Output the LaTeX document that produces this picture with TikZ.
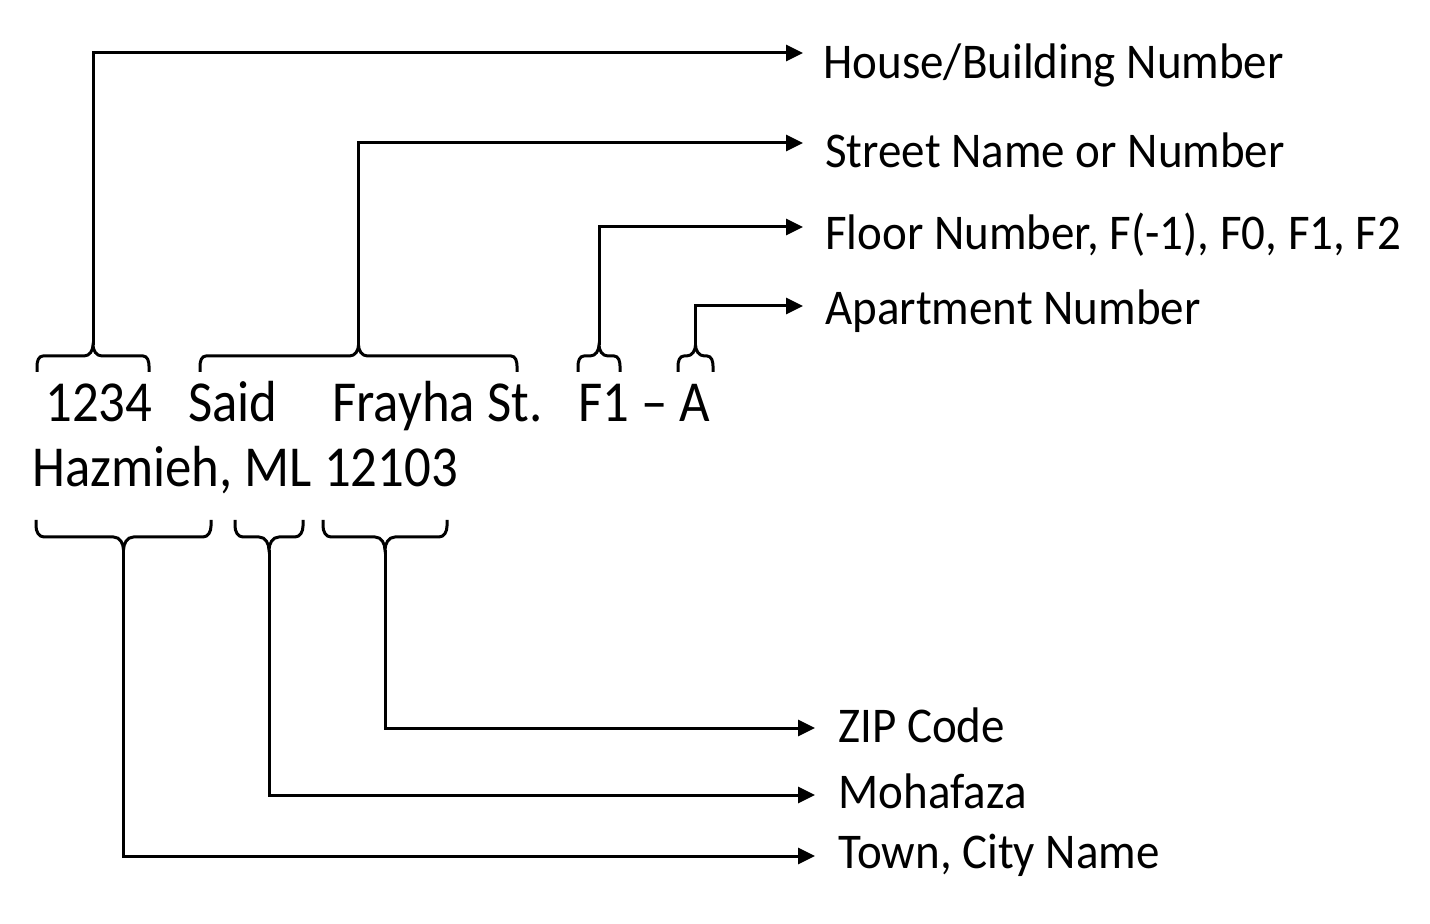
\documentclass[tikz,border=0pt]{standalone}
\usepackage{fontspec}
\usepackage{graphicx}
\setmainfont{Carlito}
\usetikzlibrary{arrows.meta, positioning, calc}

% narrow lettering of the address and of the field names
\newcommand{\addrtext}[1]{\scalebox{0.91}[1]{#1}}
\newcommand{\fieldtext}[1]{\scalebox{0.94}[1]{#1}}

% curly bracket opening downwards (tip on top), #1 tip name, #2 left x, #3 right x, #4 bottom y
\newcommand{\upbrace}[4]{%
  \pgfmathsetmacro{\bmid}{(#2+#3)/2}
  \draw[bracket] (#2,#4) -- (#2,#4-6) to[out=90,in=180] (#2+6,#4-16) -- (\bmid-9,#4-16) to[out=0,in=-90] (\bmid,#4-27)
    to[out=-90,in=180] (\bmid+9,#4-16) -- (#3-6,#4-16) to[out=0,in=90] (#3,#4-6) -- (#3,#4);
  \coordinate (#1) at (\bmid,#4-27);
}
% curly bracket opening upwards (tip below), #4 top y
\newcommand{\downbrace}[4]{%
  \pgfmathsetmacro{\bmid}{(#2+#3)/2}
  \draw[bracket] (#2,#4) -- (#2,#4+6) to[out=-90,in=180] (#2+8,#4+17) -- (\bmid-10,#4+17) to[out=0,in=90] (\bmid,#4+30)
    to[out=90,in=180] (\bmid+10,#4+17) -- (#3-8,#4+17) to[out=0,in=-90] (#3,#4+6) -- (#3,#4);
  \coordinate (#1) at (\bmid,#4+30);
}

\begin{document}
\begin{tikzpicture}[x=0.5pt, y=-0.5pt,
            addr/.style={anchor=base west, inner sep=0pt, font=\fontsize{29}{35}\selectfont},
            field/.style={anchor=west, inner xsep=10pt, inner ysep=0pt, font=\fontsize{25}{30}\selectfont},
            bracket/.style={line width=1.5pt},
            conn/.style={line width=1.5pt, -{Triangle[length=8.5pt, width=8pt]}}]
            \useasboundingbox (0,0) rectangle (1430,924);

            % Address lines
            \node[addr] (num) at (45,422) {\addrtext{1234}};
            \node[addr] (said) at (188,422) {\addrtext{Said}};
            \node[addr] (frayha) at (332,422) {\addrtext{Frayha St.}};
            \node[addr] (unit) at (578,422) {\addrtext{F1 -- A}};
            \node[addr] (locality) at (32,487) {\addrtext{Hazmieh, ML 12103}};

            % Field names on the right
            \node[field] (house) at (803,65) {\fieldtext{House/Building Number}};
            \node[field] (street) at (805,150) {\fieldtext{Street Name or Number}};
            \node[field] (floor) at (805,235) {\fieldtext{Floor Number, F(-1), F0, F1, F2}};
            \node[field] (apt) at (805,311) {\fieldtext{Apartment Number}};
            \node[field] (zip) at (818,725) {\fieldtext{ZIP Code}};
            \node[field] (mohafaza) at (818,791) {\fieldtext{Mohafaza}};
            \node[field] (city) at (818,855) {\fieldtext{Town, City Name}};

            % Brackets over the first line
            \upbrace{tnum}{37}{149}{372}
            \upbrace{tstreet}{200}{517}{372}
            \upbrace{tfloor}{578}{620}{372}
            \upbrace{tapt}{678}{713}{372}

            % Brackets under the second line
            \downbrace{tcity}{36}{211}{520}
            \downbrace{tmoh}{235}{303}{520}
            \downbrace{tzip}{323}{447}{520}

            % Connectors
            \draw[conn] (tnum) |- ([yshift=6pt]house.west);
            \draw[conn] (tstreet) |- ([xshift=-1pt,yshift=3.5pt]street.west);
            \draw[conn] (tfloor) |- ([xshift=-1pt,yshift=4pt]floor.west);
            \draw[conn] (tapt) |- ([xshift=-1pt,yshift=2.5pt]apt.west);
            \draw[conn] (tzip) |- ([xshift=-1.5pt,yshift=-1.5pt]zip.west);
            \draw[conn] (tmoh) |- ([xshift=-1.5pt,yshift=-2pt]mohafaza.west);
            \draw[conn] (tcity) |- ([xshift=-1.5pt,yshift=-0.5pt]city.west);
        \end{tikzpicture}
\end{document}
